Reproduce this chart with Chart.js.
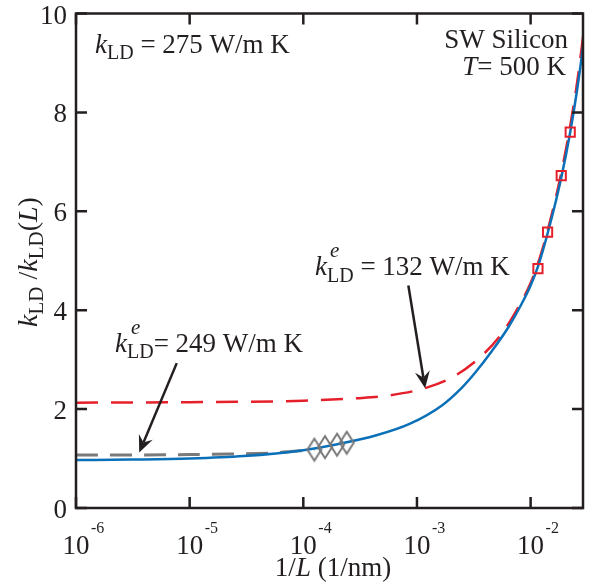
<!DOCTYPE html>
<html>
<head>
<meta charset="utf-8">
<script src="https://cdn.jsdelivr.net/npm/chart.js@4.4.1/dist/chart.umd.min.js"></script>
<style>
  html, body { margin: 0; padding: 0; background: #fff; }
</style>
</head>
<body>
<canvas id="chart" width="593" height="582"></canvas>
<script>
// 1/L (1/nm) と k_LD/k_LD(L) の値
const fitX = [1e-6, 3e-6, 1e-5, 3e-5, 1e-4, 2e-4, 4.4e-4, 8.6e-4, 1.67e-3, 2.5e-3, 3.26e-3, 4.55e-3, 6.35e-3, 8.3e-3, 1.0e-2, 1.16e-2, 1.41e-2, 1.86e-2, 2.23e-2, 2.6e-2, 2.9e-2];
const fitY = [0.97, 0.98, 1.0, 1.05, 1.17, 1.29, 1.47, 1.70, 2.08, 2.44, 2.74, 3.17, 3.65, 4.12, 4.5, 4.88, 5.55, 6.68, 7.6, 8.55, 9.35];

const redX = [1e-6, 1e-5, 1e-4, 3e-4, 5.4e-4, 1.2e-3, 2.18e-3, 3.72e-3, 5.56e-3, 7.76e-3, 1.0e-2, 1.2e-2, 1.4e-2, 1.85e-2, 2.25e-2, 2.6e-2, 2.9e-2];
const redY = [2.13, 2.14, 2.17, 2.22, 2.27, 2.43, 2.68, 3.08, 3.52, 4.05, 4.55, 5.05, 5.58, 6.75, 7.78, 8.7, 9.55];

const grayX = [1e-6, 1e-5, 5e-5, 1.25e-4];
const grayY = [1.07, 1.08, 1.11, 1.18];

const diamondX = [1.25e-4, 1.55e-4, 1.98e-4, 2.41e-4];
const diamondY = [1.18, 1.23, 1.28, 1.32];

const squareX = [1.16e-2, 1.41e-2, 1.86e-2, 2.23e-2];
const squareY = [4.84, 5.58, 6.72, 7.6];

const xMin = 1e-6, xMax = 0.0289;
const yMin = 0, yMax = 10, yStep = 2;

// 矢印（データ座標）: [始点x, 始点y, 先端x, 先端y]
const arrows = [
    [8.4e-4, 4.5, 1.18e-3, 2.42],
    [7.7e-6, 2.93, 3.6e-6, 1.12]
];

const ink = '#231f20';
const serif = '"Liberation Serif", "Times New Roman", serif';

function toPoints(xs, ys) {
    return xs.map((x, i) => ({ x: x, y: ys[i] }));
}

function font(size, italic) {
    return (italic ? 'italic ' : '') + size + 'px ' + serif;
}

// 縦長のひし形マーカー
let diamond = document.createElement('canvas');
diamond.width = 18;
diamond.height = 26;
(function () {
    let c = diamond.getContext('2d');
    c.strokeStyle = '#777777';
    c.lineWidth = 2;
    c.beginPath();
    c.moveTo(9, 2);
    c.lineTo(16, 13);
    c.lineTo(9, 24);
    c.lineTo(2, 13);
    c.closePath();
    c.stroke();
})();

// テキストの連続描画（下付き・上付き対応）
function drawRuns(ctx, x, y, runs, align) {
    let total = 0;
    runs.forEach(r => {
        ctx.font = font(r.s, r.i);
        r.w = ctx.measureText(r.t).width;
        if (!r.stay) total += r.w;
    });
    let cx = x;
    if (align === 'center') cx = x - total / 2;
    if (align === 'right') cx = x - total;
    ctx.textAlign = 'left';
    ctx.textBaseline = 'alphabetic';
    runs.forEach(r => {
        ctx.font = font(r.s, r.i);
        ctx.fillText(r.t, cx + (r.dx || 0), y + (r.dy || 0));
        if (!r.stay) cx += r.w;
    });
}

function drawArrow(ctx, x1, y1, x2, y2) {
    let ang = Math.atan2(y2 - y1, x2 - x1);
    let len = 17, half = 7.5, notch = 11;
    ctx.save();
    ctx.strokeStyle = ink;
    ctx.fillStyle = ink;
    ctx.lineWidth = 2.5;
    ctx.beginPath();
    ctx.moveTo(x1, y1);
    ctx.lineTo(x2 - Math.cos(ang) * notch, y2 - Math.sin(ang) * notch);
    ctx.stroke();
    ctx.translate(x2, y2);
    ctx.rotate(ang);
    ctx.beginPath();
    ctx.moveTo(0, 0);
    ctx.lineTo(-len, -half);
    ctx.lineTo(-notch, 0);
    ctx.lineTo(-len, half);
    ctx.closePath();
    ctx.fill();
    ctx.restore();
}

const decorPlugin = {
    id: 'decor',
    afterDatasetsDraw(chart) {
        const ctx = chart.ctx;
        const area = chart.chartArea;
        const xs = chart.scales.x, ys = chart.scales.y;
        const tick = 11;
        ctx.save();
        ctx.strokeStyle = ink;
        ctx.fillStyle = ink;
        ctx.lineWidth = 2.5;

        // 枠
        ctx.strokeRect(area.left, area.top, area.right - area.left, area.bottom - area.top);

        // x 目盛（10 のべき乗のみ）
        xs.ticks.forEach(t => {
            let lg = Math.log10(t.value);
            if (Math.abs(lg - Math.round(lg)) > 1e-6) return;
            let px = xs.getPixelForValue(t.value);
            ctx.beginPath();
            ctx.moveTo(px, area.bottom);
            ctx.lineTo(px, area.bottom - tick);
            ctx.moveTo(px, area.top);
            ctx.lineTo(px, area.top + tick);
            ctx.stroke();
            ctx.font = font(27, false);
            ctx.textAlign = 'center';
            ctx.textBaseline = 'alphabetic';
            ctx.fillText('10', px, area.bottom + 46);
            ctx.font = font(16, false);
            ctx.textAlign = 'left';
            ctx.fillText(String(Math.round(lg)), px + 15, area.bottom + 25);
        });

        // y 目盛
        ys.ticks.forEach(t => {
            let py = ys.getPixelForValue(t.value);
            ctx.beginPath();
            ctx.moveTo(area.left, py);
            ctx.lineTo(area.left + tick, py);
            ctx.moveTo(area.right, py);
            ctx.lineTo(area.right - tick, py);
            ctx.stroke();
            ctx.font = font(27, false);
            ctx.textAlign = 'right';
            ctx.textBaseline = 'alphabetic';
            ctx.fillText(String(t.value), area.left - 9, py + 10);
        });

        // 軸ラベル
        drawRuns(ctx, 333, 576, [
            { t: '1/', s: 27 },
            { t: 'L', s: 27, i: true },
            { t: ' (1/nm)', s: 27 }
        ], 'center');

        ctx.save();
        ctx.translate(37, 262);
        ctx.rotate(-Math.PI / 2);
        drawRuns(ctx, 0, 0, [
            { t: 'k', s: 28, i: true },
            { t: 'LD', s: 21, dy: 6 },
            { t: ' /', s: 28 },
            { t: 'k', s: 28, i: true },
            { t: 'LD', s: 21, dy: 6 },
            { t: '(', s: 28 },
            { t: 'L', s: 28, i: true },
            { t: ')', s: 28 }
        ], 'center');
        ctx.restore();

        // 注記
        drawRuns(ctx, 95, 53, [
            { t: 'k', s: 27, i: true },
            { t: 'LD', s: 20, dy: 6 },
            { t: ' = 275 W/m K', s: 27 }
        ], 'left');

        drawRuns(ctx, 568, 48, [{ t: 'SW Silicon', s: 27 }], 'right');
        drawRuns(ctx, 566, 75, [
            { t: 'T', s: 27, i: true },
            { t: '= 500 K', s: 27 }
        ], 'right');

        drawRuns(ctx, 315, 275, [
            { t: 'k', s: 27, i: true },
            { t: 'e', s: 21, i: true, dy: -18, dx: 3, stay: true },
            { t: 'LD', s: 20, dy: 7 },
            { t: ' = 132 W/m K', s: 27 }
        ], 'left');

        drawRuns(ctx, 115, 352, [
            { t: 'k', s: 27, i: true },
            { t: 'e', s: 21, i: true, dy: -18, dx: 4, stay: true },
            { t: 'LD', s: 20, dy: 6 },
            { t: '= 249 W/m K', s: 27 }
        ], 'left');

        arrows.forEach(a => {
            drawArrow(ctx,
                xs.getPixelForValue(a[0]), ys.getPixelForValue(a[1]),
                xs.getPixelForValue(a[2]), ys.getPixelForValue(a[3]));
        });

        ctx.restore();
    }
};

// 軸の余白をなくして描画領域を padding で決める
function noSize(scale) {
    if (scale.isHorizontal()) scale.height = 0;
    else scale.width = 0;
    scale.paddingLeft = scale.paddingRight = scale.paddingTop = scale.paddingBottom = 0;
}

let ctx = document.getElementById('chart').getContext('2d');
let chart = new Chart(ctx, {
    type: 'line',
    data: {
        datasets: [
            {
                label: 'gray dashed',
                data: toPoints(grayX, grayY),
                borderColor: '#7a7a7a',
                borderWidth: 3,
                borderDash: [22, 12],
                pointRadius: 0,
                fill: false,
                tension: 0.3,
                order: 4
            },
            {
                label: 'red dashed',
                data: toPoints(redX, redY),
                borderColor: '#e5202b',
                borderWidth: 2.5,
                borderDash: [22, 13],
                pointRadius: 0,
                fill: false,
                cubicInterpolationMode: 'monotone',
                order: 3
            },
            {
                label: 'fit',
                data: toPoints(fitX, fitY),
                borderColor: '#0b70b8',
                borderWidth: 2.5,
                pointRadius: 0,
                fill: false,
                cubicInterpolationMode: 'monotone',
                order: 2
            },
            {
                label: 'diamonds',
                data: toPoints(diamondX, diamondY),
                showLine: false,
                pointStyle: diamond,
                pointRadius: 9,
                order: 1
            },
            {
                label: 'squares',
                data: toPoints(squareX, squareY),
                showLine: false,
                pointStyle: 'rect',
                pointRadius: 6.5,
                pointBorderWidth: 2,
                pointBorderColor: '#e5202b',
                pointBackgroundColor: 'rgba(0,0,0,0)',
                order: 0
            }
        ]
    },
    options: {
        responsive: false,
        animation: false,
        events: [],
        layout: {
            padding: { left: 76, right: 3, top: 13.5, bottom: 74 }
        },
        scales: {
            x: {
                type: 'logarithmic',
                min: xMin,
                max: xMax,
                ticks: { display: false },
                grid: { display: false, drawTicks: false },
                border: { display: false },
                afterFit: noSize
            },
            y: {
                type: 'linear',
                min: yMin,
                max: yMax,
                ticks: { display: false, stepSize: yStep },
                grid: { display: false, drawTicks: false },
                border: { display: false },
                afterFit: noSize
            }
        },
        plugins: {
            legend: { display: false },
            tooltip: { enabled: false }
        }
    },
    plugins: [decorPlugin]
});
</script>
</body>
</html>
